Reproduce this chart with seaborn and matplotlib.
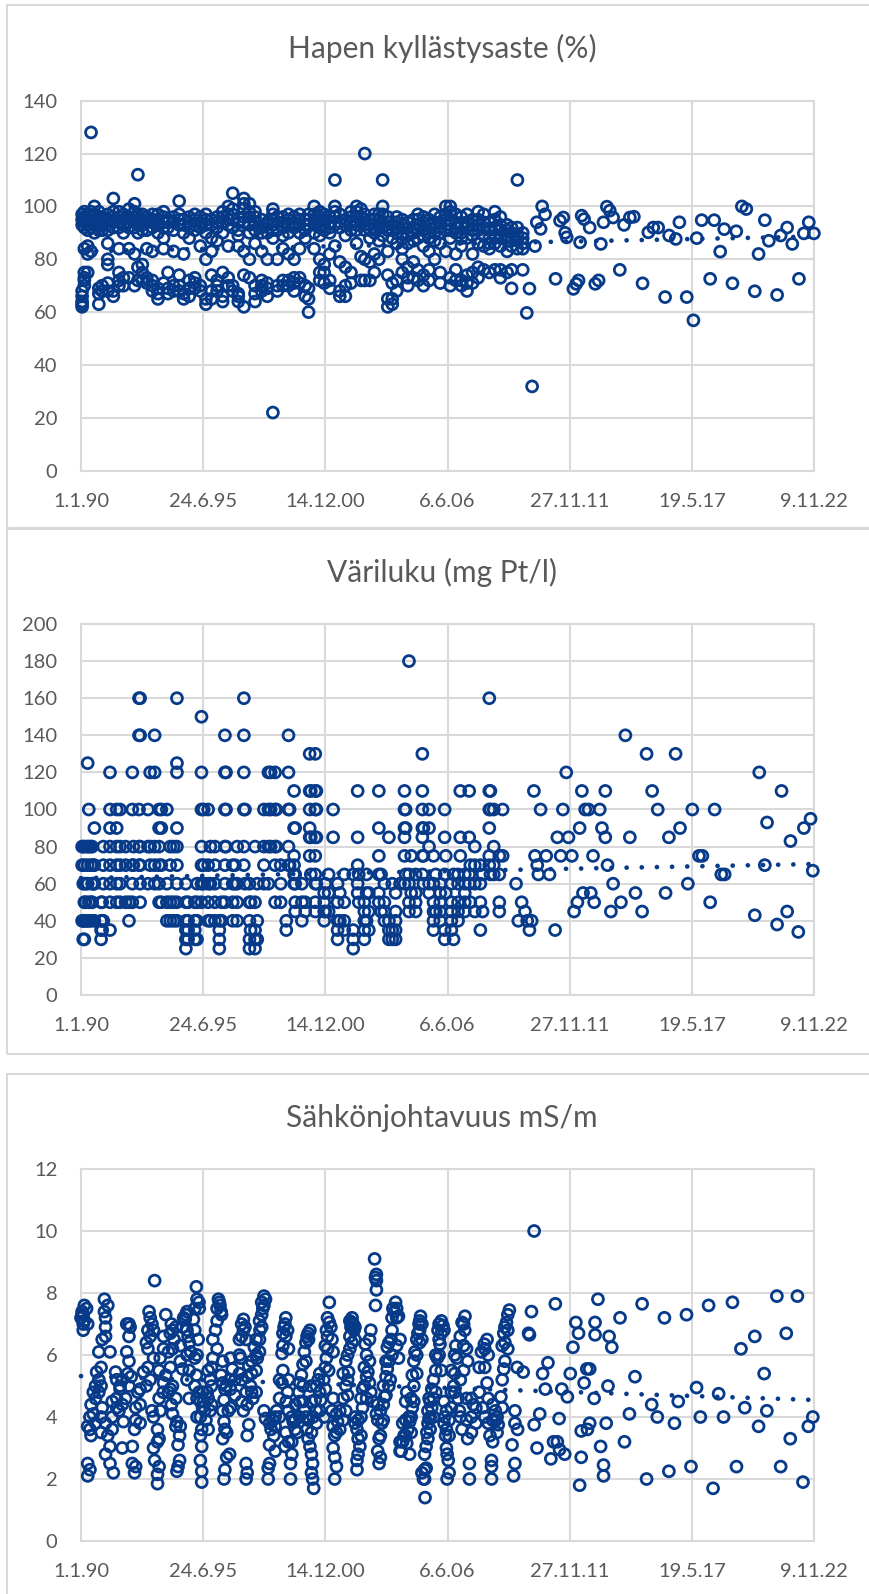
import numpy as np
import pandas as pd
import matplotlib
matplotlib.use("Agg")
import matplotlib.pyplot as plt
import seaborn as sns
from matplotlib.patches import Rectangle

# ---------------- data ----------------
x_tick_labels = ["1.1.90", "24.6.95", "14.12.00", "6.6.06", "27.11.11", "19.5.17", "9.11.22"]
titles = ["Hapen kyllästysaste (%)", "Väriluku (mg Pt/l)", "Sähkönjohtavuus mS/m"]

# Panel 1: oxygen saturation (%) -- sampling dates (decimal year) and values per date
o2_dates = [1990.05, 1990.15, 1990.3, 1990.45, 1990.6, 1990.8, 1990.95,
            1991.2, 1991.45, 1991.7, 1991.9,
            1992.15, 1992.4, 1992.55, 1992.75, 1992.95,
            1993.2, 1993.45, 1993.7, 1993.9,
            1994.15, 1994.4, 1994.6, 1994.85,
            1995.1, 1995.35, 1995.6, 1995.85,
            1996.1, 1996.35, 1996.6, 1996.8,
            1997.05, 1997.3, 1997.55, 1997.8,
            1998.1, 1998.35, 1998.6, 1998.8,
            1999.05, 1999.3, 1999.55, 1999.8,
            2000.05, 2000.2, 2000.45, 2000.7, 2000.9,
            2001.15, 2001.38, 2001.6, 2001.85,
            2002.1, 2002.35, 2002.55, 2002.72, 2002.95,
            2003.15, 2003.35, 2003.52, 2003.75, 2003.95,
            2004.15, 2004.4, 2004.65, 2004.9,
            2005.1, 2005.35, 2005.6, 2005.85,
            2006.1, 2006.35, 2006.55, 2006.8,
            2007.05, 2007.3, 2007.55, 2007.8,
            2008.05, 2008.3, 2008.55, 2008.8,
            2009.1, 2009.3, 2009.56, 2009.8,
            2009.98, 2010.1, 2010.22, 2010.35, 2010.43, 2010.6, 2010.67, 2010.8,
            2011.27, 2011.47, 2011.62, 2011.7, 2011.77,
            2012.07, 2012.2, 2012.3, 2012.37, 2012.44, 2012.55, 2012.8,
            2013.05, 2013.2, 2013.3, 2013.42, 2013.57, 2013.7, 2013.85,
            2014.15, 2014.34, 2014.6, 2014.78,
            2015.17, 2015.43, 2015.65, 2015.87,
            2016.18, 2016.36, 2016.66, 2016.82,
            2017.15, 2017.45, 2017.6, 2017.82,
            2018.2, 2018.38, 2018.65, 2018.83,
            2019.2, 2019.37, 2019.62, 2019.82,
            2020.2, 2020.37, 2020.65, 2020.83,
            2021.2, 2021.36, 2021.65, 2021.88,
            2022.18, 2022.4, 2022.62, 2022.85]
o2_values = [[62, 63, 64, 66, 68, 93, 95, 97], [70, 72, 73, 75, 84, 92, 94, 96, 98], [75, 82, 85, 91, 93, 95, 97],
             [128, 83, 92, 94, 96, 98], [90, 93, 95, 97, 100], [63, 67, 69, 91, 94, 96, 98], [68, 70, 91, 93, 95, 96],
             [68, 71, 78, 80, 86, 91, 93, 95, 97], [66, 68, 92, 94, 96, 98, 103], [70, 72, 75, 84, 92, 94, 96, 98],
             [70, 73, 90, 93, 95, 97],
             [73, 84, 92, 94, 96, 99], [70, 82, 92, 94, 96, 98, 101], [72, 77, 90, 93, 95, 97, 112],
             [72, 75, 78, 91, 93, 95, 97], [71, 73, 84, 91, 94, 96],
             [68, 70, 72, 83, 92, 94, 95, 97], [65, 67, 69, 90, 93, 95, 97], [71, 84, 88, 92, 94, 96, 98],
             [67, 69, 75, 92, 94, 95],
             [68, 70, 83, 91, 94, 96], [68, 70, 74, 93, 95, 97, 102], [65, 67, 82, 90, 93, 95],
             [66, 69, 72, 88, 92, 94, 96],
             [69, 71, 73, 91, 93, 95, 97], [68, 70, 85, 92, 94, 96], [63, 65, 80, 90, 93, 95, 97],
             [65, 68, 74, 83, 88, 93, 95],
             [68, 70, 72, 87, 92, 94, 96], [64, 66, 75, 90, 94, 96, 98], [70, 73, 85, 93, 95, 97, 100],
             [68, 70, 92, 95, 97, 99, 105],
             [64, 66, 67, 85, 89, 91, 94], [62, 74, 83, 94, 96, 99, 101, 103], [73, 80, 90, 93, 96, 98, 101],
             [64, 67, 70, 86, 91, 94, 96, 98],
             [68, 70, 72, 83, 90, 92, 95], [66, 69, 71, 80, 90, 93, 94], [22, 88, 91, 93, 95, 97, 99],
             [68, 70, 80, 91, 94, 96],
             [70, 72, 84, 89, 92, 94, 96], [70, 72, 82, 90, 93, 95, 97], [68, 71, 73, 80, 92, 94, 96],
             [71, 73, 84, 90, 93, 95, 97],
             [66, 70, 88, 91, 93, 95], [60, 65, 69, 93, 95, 97], [84, 90, 93, 95, 97, 100],
             [72, 75, 80, 89, 92, 94, 96, 98], [71, 75, 78, 91, 93, 95, 97],
             [69, 72, 82, 90, 92, 94, 96], [85, 93, 96, 98, 100, 110], [66, 68, 79, 92, 94, 97],
             [66, 70, 77, 89, 93, 95],
             [71, 75, 91, 94, 96, 98], [86, 91, 93, 96, 98, 100], [72, 81, 94, 96, 99],
             [72, 80, 91, 93, 95, 97, 120], [72, 79, 88, 91, 93, 95],
             [75, 82, 90, 92, 95, 97], [80, 87, 93, 95, 97], [89, 92, 94, 97, 100, 110],
             [62, 65, 74, 83, 91, 94, 96], [63, 65, 71, 88, 91, 93],
             [68, 72, 86, 90, 92, 94, 96], [75, 80, 84, 88, 90, 93, 95], [70, 73, 77, 86, 89, 92, 94],
             [73, 79, 87, 90, 92, 95],
             [72, 76, 88, 91, 93, 95, 97], [70, 74, 85, 89, 91, 94, 96], [72, 76, 83, 88, 90, 93, 95],
             [80, 87, 90, 92, 94, 97],
             [71, 75, 86, 90, 92, 94, 96], [83, 91, 93, 95, 97, 100], [70, 73, 88, 91, 93, 95, 98, 100],
             [72, 76, 82, 90, 92, 94, 97],
             [70, 72, 85, 88, 90, 93, 96], [68, 71, 74, 88, 92, 94, 97], [71, 75, 82, 89, 91, 93, 95],
             [73, 77, 86, 91, 93, 95, 98],
             [76, 85, 89, 92, 94, 97], [75, 84, 86, 88, 91, 94], [76, 86, 89, 92, 95, 98],
             [73, 76, 85, 88, 91, 93, 96],
             [75, 83, 87, 89, 91, 93], [69, 76, 85, 88, 90, 92], [84, 87, 89, 92, 110], [76, 84, 86, 88, 90],
             [59.7], [68.9], [31.9], [85], [94], [91.5], [100], [97],
             [72.6], [94.6], [95.8], [90], [88.3],
             [68.8], [70.7], [72], [86.4], [96.5], [95.2], [92],
             [70.7], [72], [85.8], [94], [99.9], [98.4], [95.8],
             [76], [93], [95.8], [96.1],
             [70.9], [90.2], [92], [92],
             [65.7], [89], [87.7], [94],
             [65.7], [56.9], [88], [94.8],
             [72.6], [94.8], [82.9], [91.4],
             [70.9], [90.6], [100], [99],
             [67.9], [82], [94.8], [87],
             [66.5], [89], [92], [85.8],
             [72.6], [89.8], [94], [89.8]]

# Panel 2: colour number (mg Pt/l)
col_dates = [1990.05, 1990.1, 1990.15, 1990.2, 1990.3, 1990.35, 1990.45, 1990.5, 1990.55, 1990.6, 1990.9, 1990.95,
             1991.0, 1991.3, 1991.6, 1991.75,
             1992.0, 1992.15, 1992.3, 1992.35, 1992.6, 1992.65,
             1993.0, 1993.1, 1993.3, 1993.5, 1993.6, 1993.85,
             1994.0, 1994.15, 1994.3, 1994.7, 1994.8,
             1995.1, 1995.2, 1995.4, 1995.5, 1995.7, 1995.8,
             1996.0, 1996.2, 1996.3, 1996.45, 1996.5, 1996.8, 1996.9,
             1997.0, 1997.3, 1997.35, 1997.55, 1997.6, 1997.8, 1997.9,
             1998.2, 1998.4, 1998.5, 1998.7, 1998.75, 1998.95,
             1999.2, 1999.3, 1999.35, 1999.55, 1999.6, 1999.9,
             2000.05, 2000.25, 2000.3, 2000.5, 2000.55, 2000.9, 2000.95,
             2001.1, 2001.3, 2001.5, 2001.6, 2001.8,
             2002.2, 2002.4, 2002.45, 2002.7, 2002.8, 2002.9,
             2003.35, 2003.45, 2003.6, 2003.8, 2003.95,
             2004.1, 2004.3, 2004.5, 2004.55, 2004.7, 2004.8,
             2005.0, 2005.3, 2005.35, 2005.6, 2005.8, 2005.9,
             2006.1, 2006.3, 2006.35, 2006.6, 2006.7, 2006.9,
             2007.0, 2007.2, 2007.4, 2007.45, 2007.65, 2007.9, 2008.0,
             2008.3, 2008.35, 2008.5, 2008.75, 2008.9,
             2009.5, 2009.6, 2009.75, 2009.9, 2010.0,
             2010.1, 2010.2, 2010.3, 2010.35, 2010.45, 2010.5, 2010.6,
             2010.85, 2011.0, 2011.25, 2011.35, 2011.5, 2011.6, 2011.75,
             2011.85, 2012.0, 2012.1, 2012.25, 2012.35, 2012.45, 2012.5,
             2012.6, 2012.75, 2012.85, 2012.95, 2013.0, 2013.25, 2013.35,
             2013.5, 2013.6, 2013.75, 2013.85, 2014.2,
             2014.4, 2014.6, 2014.85, 2015.15, 2015.35,
             2015.6, 2015.85, 2016.2, 2016.35, 2016.65, 2016.85,
             2017.2, 2017.4, 2017.7, 2017.85, 2018.2, 2018.4, 2018.7, 2018.85,
             2020.2, 2020.4, 2020.65, 2020.75, 2021.2, 2021.4, 2021.65, 2021.8,
             2022.15, 2022.4, 2022.7, 2022.8]
col_values = [[40, 70, 80], [40, 80, 30, 60], [40, 30, 70, 50], [40, 80, 50, 60], [125, 60, 40, 80, 70],
              [100, 80, 50, 40], [80, 50, 40, 70], [60, 80, 50], [70, 60], [90, 70, 60, 40], [30, 35, 40, 50], [40, 50, 35],
              [80, 70, 60, 40], [120, 100, 90, 80, 70, 60, 50, 35], [100, 90, 80, 70, 60, 50], [100, 80, 70, 60, 50],
              [80, 70, 50], [40, 50], [120, 100, 60, 50, 70], [80, 70], [160, 140, 100, 80, 70], [160, 140, 80, 70, 60, 50],
              [100, 80, 60], [120, 70, 80], [140, 120, 80, 70, 60], [100, 90, 80, 70, 60, 50], [100, 90, 70, 50], [100, 50, 40, 60],
              [80, 70, 50, 40], [50, 40, 80], [160, 125, 120, 90, 80, 70, 60, 50, 40], [25, 35, 30, 40, 50, 60], [30, 35, 40, 50],
              [40, 35, 50, 30], [60, 50, 40, 30], [150, 120, 100, 80, 70, 60, 50], [100, 70, 60], [100, 70, 60, 50, 40], [80, 60, 40],
              [80, 70, 60, 50, 40], [40, 25, 30, 35], [40, 50], [140, 120, 100, 80, 70, 60, 50], [120, 100, 80], [70, 60, 50, 40], [70, 60],
              [80, 60, 50, 40], [160, 140, 120, 100, 80, 70], [100, 60], [60, 50, 40, 25, 30], [50, 35], [80, 50, 35, 25, 30], [40, 30, 60],
              [100, 80, 70, 60], [60, 120, 100, 80], [120, 100, 80], [120, 100, 80, 70, 50], [100, 80], [70, 60, 50],
              [40, 35], [120, 140, 100, 80, 70], [100, 70], [90, 110, 70, 65, 60, 75], [90, 65, 60, 45, 50], [60, 50, 40],
              [50, 45], [130, 110, 100, 85, 90, 75], [110, 85, 65], [130, 110, 100, 85, 75, 65, 60, 50, 45], [110, 100, 85, 60],
              [55, 50, 45, 40], [60, 45],
              [65, 55, 45], [100, 85], [60, 50, 40, 35, 30], [55, 40], [65, 50, 40, 35],
              [25, 65, 30, 35], [70, 110, 85, 60, 55], [65, 50], [50, 45, 40, 35, 30], [65, 55, 40], [55, 45, 35],
              [110, 90, 75, 65, 55, 50], [65, 45], [60, 50, 45, 40], [85, 40, 35, 30], [35, 30, 60],
              [55, 45, 40, 35, 30], [60], [100, 110, 90, 75, 85, 60], [100, 90, 65], [180, 65, 60, 50, 45], [75, 55],
              [65, 55, 50, 45], [130, 110, 100, 90, 85, 75, 65], [90, 75, 60], [100, 90, 80, 60, 55],
              [75, 60, 50, 45, 40, 35], [65, 45],
              [60, 55, 50, 45, 40], [100, 85, 65, 30, 35], [75, 55], [60, 50, 45, 40, 35], [65, 30], [65, 60, 50, 45, 40],
              [110, 85, 75], [65, 60, 55, 50, 45], [110, 65, 60, 85], [70, 50], [80, 70, 60, 45], [70, 50, 60, 35], [65, 45],
              [160, 100, 110, 90, 75, 70], [110, 100, 65], [100, 80, 70, 65], [65, 75, 50, 45], [100, 75],
              [60], [40], [50], [45], [40],
              [35], [40], [110], [75], [70], [65], [100],
              [75], [65], [35], [85], [75], [100], [120],
              [85], [75], [45], [50], [90], [110], [55],
              [100], [100], [55], [75], [50], [100], [90],
              [110, 85], [70], [45], [60], [50],
              [140], [85], [55], [45], [130],
              [110], [100], [55], [85], [130], [90],
              [60], [100], [75], [75], [50], [100], [65], [65],
              [43], [120], [70], [93], [38], [110], [45], [83],
              [34], [90], [95], [67]]

# Panel 3: electrical conductivity (mS/m), main sampling dates
ec_dates = [1990.0, 1990.05, 1990.15, 1990.25, 1990.3, 1990.45, 1990.55, 1990.7, 1990.8, 1990.95,
            1991.05, 1991.2, 1991.3, 1991.45, 1991.55, 1991.7, 1991.75, 1991.9,
            1992.0, 1992.05, 1992.1, 1992.2, 1992.25, 1992.3, 1992.4, 1992.55, 1992.8, 1992.93,
            1993.05, 1993.18, 1993.3, 1993.43, 1993.55, 1993.68, 1993.8, 1993.92,
            1994.05, 1994.17, 1994.3, 1994.42, 1994.55, 1994.6, 1994.67, 1994.7, 1994.8, 1994.92,
            1995.04, 1995.17, 1995.25, 1995.29, 1995.3, 1995.41, 1995.5, 1995.54, 1995.6, 1995.66, 1995.79, 1995.91,
            1996.03, 1996.16, 1996.2, 1996.23, 1996.28, 1996.3, 1996.41, 1996.5, 1996.53, 1996.6, 1996.66, 1996.78,
            1997.15, 1997.28, 1997.35, 1997.4, 1997.52, 1997.6, 1997.7, 1997.77, 1997.9,
            1998.02, 1998.15, 1998.27, 1998.39, 1998.52, 1998.6, 1998.64, 1998.77,
            1999.01, 1999.1, 1999.14, 1999.2, 1999.26, 1999.39, 1999.51, 1999.7, 1999.76, 1999.88,
            2000.01, 2000.13, 2000.2, 2000.26, 2000.3, 2000.38, 2000.4, 2000.43, 2000.5, 2000.63, 2000.75, 2000.88, 2000.9,
            2001.0, 2001.1, 2001.13, 2001.2, 2001.25, 2001.37, 2001.5, 2001.87, 2001.99,
            2002.1, 2002.12, 2002.2, 2002.24, 2002.3, 2002.37, 2002.5, 2002.62, 2002.74, 2002.86, 2002.99,
            2003.1, 2003.16, 2003.2, 2003.24, 2003.36, 2003.48, 2003.61, 2003.73, 2003.86, 2003.9, 2003.98,
            2004.05, 2004.1, 2004.23, 2004.35, 2004.48, 2004.6, 2004.65, 2004.7, 2004.73, 2004.85, 2004.97,
            2005.1, 2005.15, 2005.22, 2005.35, 2005.42, 2005.47, 2005.5, 2005.6, 2005.72, 2005.97,
            2006.0, 2006.09, 2006.22, 2006.3, 2006.34, 2006.41, 2006.46, 2006.71, 2006.8, 2006.84, 2006.9, 2006.96,
            2007.08, 2007.2, 2007.21, 2007.33, 2007.41, 2007.58, 2007.95,
            2008.0, 2008.08, 2008.2, 2008.33, 2008.4, 2008.57, 2008.6, 2008.7, 2008.82, 2008.95,
            2009.07, 2009.2, 2009.32, 2009.39, 2009.55, 2009.57, 2009.82,
            2010.06, 2010.1, 2010.19, 2010.31, 2010.44, 2010.56, 2010.69, 2010.81, 2010.93,
            2011.06, 2011.18, 2011.26, 2011.35, 2011.43, 2011.45, 2011.55, 2011.68, 2011.8, 2011.93,
            2012.05, 2012.18, 2012.3, 2012.35, 2012.42, 2012.55, 2012.67, 2012.7, 2012.8,
            2013.0, 2013.04, 2013.17, 2013.29, 2013.42, 2013.54, 2013.62, 2013.67, 2013.79,
            2014.16, 2014.36, 2014.58, 2014.83, 2015.15, 2015.35, 2015.58, 2015.83, 2016.15,
            2016.35, 2016.6, 2016.77, 2017.14, 2017.34, 2017.59, 2017.76, 2018.13, 2018.33, 2018.58, 2018.8,
            2019.2, 2019.38, 2019.58, 2019.75, 2020.2, 2020.37, 2020.62, 2020.74,
            2021.19, 2021.36, 2021.61, 2021.79, 2022.11, 2022.36, 2022.6, 2022.8]
ec_values = [[7.2], [7.4, 7.3], [7.1, 7.6], [7.5], [7.0, 3.7, 2.5, 2.1], [3.4, 4.4], [4.8, 4.1], [5.45], [5.2, 4.8, 6.1], [4.3, 6.5],
             [7.8, 7.4], [7.6, 3.4], [6.1, 2.5, 3.05], [2.2], [5.45], [4.2], [4.9, 5.0], [3.85],
             [4.6], [7.0, 6.1], [5.4], [6.9], [5.3], [2.5, 3.05], [2.2, 3.6], [4.8], [5.45], [6.4, 5.0],
             [7.4], [7.0, 4.2], [8.4, 2.6], [3.6, 3.2, 2.15, 1.85], [5.9, 4.2], [4.8], [7.3, 5.35], [6.1, 4.8],
             [7.0, 4.4], [6.5], [3.85, 2.25], [3.4, 2.6], [5.55, 6.9], [7.2], [7.15], [7.3], [6.6], [6.1],
             [7.15], [8.2, 5.35], [6.5], [7.7, 4.8], [7.5], [3.6, 3.05, 2.25, 1.9], [4.5], [4.2], [3.9], [4.8], [5.2, 4.2], [5.9, 6.5],
             [6.8], [7.8], [7.7], [7.6], [7.4, 5.35], [7.3], [4.55, 3.85, 2.0], [5.0], [3.5, 2.7], [4.2], [2.8, 5.2], [5.55],
             [5.9], [7.15, 6.8, 4.2], [6.9], [6.5, 4.8, 2.5, 2.0], [5.65, 3.75], [5.0], [4.6], [6.25], [5.9],
             [6.8], [7.5], [7.8, 3.95], [2.35, 2.0], [3.6], [3.9], [3.4], [4.2],
             [6.05, 5.1], [6.9], [7.0, 3.05], [4.5], [6.8, 4.8], [2.5, 2.0], [3.85], [3.5], [4.8], [5.35],
             [6.1, 4.2], [6.6, 3.6], [6.5], [6.8, 3.05], [5.0], [2.5, 2.0], [4.0], [1.7], [4.55], [5.2], [4.55], [5.2], [4.0],
             [6.8, 5.9], [5.5], [7.7, 7.05], [6.9], [6.5, 4.2], [3.4, 2.7, 2.0], [3.85], [5.8, 5.0, 4.2], [5.45],
             [6.9], [7.05], [7.0], [6.8], [4.0], [3.6, 2.6, 2.3], [3.05], [4.9, 4.3], [6.35], [5.45], [6.8, 4.8],
             [4.5], [9.1], [7.6, 8.5], [8.6, 8.4, 8.1, 4.1], [3.3, 2.5], [3.8], [4.65], [6.25, 5.55], [5.2], [6.5], [7.5],
             [7.4], [7.7], [7.25, 5.9], [2.9], [3.4], [4.8, 3.15], [3.6], [4.0], [3.85, 2.8], [4.3, 5.35], [6.1],
             [6.7], [7.0], [7.25], [2.0], [1.4], [2.35, 3.05], [3.5], [3.95, 4.6], [4.3, 4.9], [5.9],
             [6.8], [6.35], [6.95], [4.0], [3.4], [2.8, 2.0], [2.6], [5.0], [6.3], [5.9], [4.6], [4.2],
             [7.05, 3.6], [6.8], [7.25], [3.3, 5.8], [2.5, 2.0], [4.4], [6.1],
             [4.3], [6.35], [6.5, 5.1], [3.4], [2.6, 2.0, 2.4], [4.2], [3.9], [3.75], [4.65], [6.7, 5.55],
             [7.05], [7.45], [3.1], [2.1], [5.6], [3.6], [5.45],
             [6.7], [6.65], [7.4], [10.0, 3.75], [3.0], [4.1], [5.4], [4.9], [5.75],
             [2.65], [3.2], [7.65], [3.2], [3.95], [2.95], [4.9], [2.8], [4.65], [5.4],
             [6.25], [7.05], [6.7], [1.8], [2.7, 3.55], [5.1], [5.55], [3.6], [5.55, 3.8],
             [4.6], [7.05, 6.65], [7.8], [3.05], [2.45, 2.1], [3.8], [5.0], [6.6], [6.25],
             [7.2], [3.2], [4.1], [5.3], [7.65], [2.0], [4.4], [4.0], [7.2],
             [2.25], [3.8], [4.5], [7.3], [2.4], [4.95], [4.0], [7.6], [1.7], [4.75], [4.0],
             [7.7], [2.4], [6.2], [4.3], [6.6], [3.7], [5.4], [4.2],
             [7.9], [2.4], [6.7], [3.3], [7.9], [1.9], [3.7], [4.0]]

# Panel 3: further depth profiles in the dense 1990-2009 period
ec_dates2 = [1990.1, 1990.4, 1990.65, 1990.9, 1991.1, 1991.4, 1991.6, 1991.85,
             1992.15, 1992.45, 1992.65, 1993.0, 1993.1, 1993.25, 1993.5, 1993.7,
             1994.0, 1994.1, 1994.25, 1994.35, 1994.45, 1994.75, 1994.85,
             1995.1, 1995.2, 1995.35, 1995.45, 1995.7, 1995.85,
             1996.1, 1996.35, 1996.45, 1996.7, 1996.9,
             1997.1, 1997.2, 1997.45, 1997.65, 1997.85,
             1998.0, 1998.1, 1998.2, 1998.45, 1998.7, 1998.9,
             1999.05, 1999.18, 1999.3, 1999.45, 1999.6, 1999.8, 1999.95,
             2000.08, 2000.18, 2000.33, 2000.55, 2000.7, 2000.95,
             2001.05, 2001.3, 2001.45, 2001.6, 2001.75, 2001.95,
             2002.05, 2002.15, 2002.28, 2002.42, 2002.55, 2002.7, 2002.8, 2002.93,
             2003.3, 2003.42, 2003.55, 2003.67, 2003.8, 2003.94,
             2004.15, 2004.3, 2004.42, 2004.55, 2004.8, 2004.92,
             2005.05, 2005.18, 2005.28, 2005.4, 2005.55, 2005.65, 2005.8, 2005.9,
             2006.05, 2006.15, 2006.27, 2006.38, 2006.5, 2006.6, 2006.75,
             2007.0, 2007.15, 2007.28, 2007.5, 2007.7, 2007.85,
             2008.1, 2008.25, 2008.45, 2008.65, 2008.88,
             2009.0, 2009.13, 2009.45]
ec_values2 = [[7.3, 7.0, 6.8], [4.0, 3.6, 2.3], [5.0, 4.6, 3.8], [5.6, 5.0, 4.0, 3.5], [7.2, 6.9, 6.6, 3.8, 2.8],
              [4.5, 4.0, 3.6], [5.2, 4.6, 4.3], [5.2, 4.4, 3.0],
              [7.0, 6.6, 5.8, 5.0], [4.3, 3.9, 2.4], [4.9, 4.4, 3.8], [6.8, 6.2, 5.6], [7.2, 6.6, 5.2],
              [6.8, 5.9, 4.0, 3.0], [5.5, 4.6, 3.3, 2.4], [6.6, 6.2, 5.1],
              [6.7, 5.6, 4.9], [6.8, 6.2, 5.0, 4.1], [6.9, 4.6, 3.7], [3.1, 2.4], [6.3, 5.8, 3.7],
              [7.4, 6.8, 6.0, 5.2], [6.4, 5.5, 4.6],
              [7.5, 6.8, 5.9, 5.0], [7.8, 6.0, 4.6, 4.0], [4.5, 4.0, 3.4, 2.6], [4.8, 4.3], [5.5, 4.6, 3.6], [5.6, 5.0, 4.4],
              [7.5, 7.1, 6.2], [5.8, 5.1, 4.2, 3.3], [4.9, 3.6, 2.3], [5.9, 4.9, 4.3], [5.2, 4.7],
              [6.5, 6.0, 5.4], [7.0, 6.6, 5.2, 4.5], [5.3, 4.4, 3.4, 2.2], [5.8, 5.4, 4.8], [6.5, 6.0, 5.5, 4.8],
              [7.1, 6.5, 6.1], [7.7, 7.3, 6.9], [7.9, 7.6, 4.2], [3.8, 3.1, 2.5], [4.0, 3.7, 2.9], [5.2, 4.6, 4.0],
              [6.7, 6.3, 5.5], [7.2, 6.6, 3.5], [6.2, 5.2, 4.2, 3.2], [4.0, 3.2, 2.8], [4.4, 3.9, 3.6],
              [5.1, 4.5, 4.0], [5.7, 5.0, 4.5],
              [6.4, 5.8, 4.0], [6.7, 3.9, 3.3], [4.5, 3.5, 2.8, 2.2], [5.0, 4.2, 3.8], [5.4, 4.8, 4.2], [6.3, 5.6, 4.9],
              [7.2, 6.6, 6.2], [6.1, 4.6, 3.7, 3.0], [4.1, 3.5, 2.4], [4.2, 3.6], [5.4, 4.6, 3.9], [6.0, 5.2, 4.7],
              [7.1, 6.6, 6.2], [7.2, 6.9, 6.4], [6.9, 6.5, 3.8], [3.9, 3.3, 2.8], [4.6, 4.0, 3.4], [5.6, 5.0],
              [6.0, 5.3, 4.6], [6.5, 5.8, 5.1],
              [4.4, 3.9, 2.9], [4.2, 3.4, 2.7], [5.0, 4.4, 3.9], [5.8, 5.3, 4.7], [6.4, 5.8, 5.0], [7.2, 6.8, 6.0],
              [7.5, 7.2, 6.3], [6.5, 3.2, 2.9], [3.8, 3.2], [4.5, 3.9, 3.4], [4.6, 4.0, 3.5], [5.8, 5.0, 4.5],
              [6.5, 6.0, 5.4], [7.1, 6.8, 6.4], [7.0, 6.5, 2.2], [2.8, 2.3, 2.0], [4.2, 3.8, 3.3], [4.5, 4.0, 3.6],
              [5.2, 4.6, 4.0], [6.0, 5.5, 4.8],
              [7.0, 6.5, 6.0], [7.1, 6.7, 5.5], [6.8, 4.5, 3.8], [4.2, 3.6, 3.0], [3.9, 3.4, 2.2], [5.5, 4.8, 4.3],
              [6.0, 5.4, 4.8],
              [6.6, 5.2, 4.0], [7.0, 6.3, 5.5], [6.2, 4.6, 3.9], [4.6, 4.0, 3.5], [4.3, 3.8], [5.6, 4.8],
              [6.2, 5.6, 4.0], [6.0, 4.6, 3.8], [4.4, 3.9, 3.2], [4.0, 3.5], [6.3, 5.2, 4.3],
              [6.9, 6.4, 5.8], [7.3, 6.8, 6.2], [4.2, 3.8, 2.5]]

# linear trend lines (end points)
trend_years = [1990.0, 2022.85]
o2_trend = [83.0, 88.6]
col_trend = [63.0, 70.6]
ec_trend = [5.32, 4.55]

y_limits = [(0, 140, 20), (0, 200, 20), (0, 12, 2)]

# ---------------- style ----------------
sns.set_theme(style="white")
plt.rcParams["font.family"] = ["Lato", "DejaVu Sans"]

MARK = "#073B8A"
GRID = "#D9D9D9"
TXT = "#595959"

W, H = 869, 1594
fig = plt.figure(figsize=(W / 100, H / 100), dpi=100)

x0 = 1990.0
x1 = 1990.0 + 12000 / 365.25
x_ticks = [x0 + k * 2000 / 365.25 for k in range(7)]

# panel frames (chart areas)
for (top, bot) in [(5, 528), (529, 1054), (1074, 1610)]:
    fig.add_artist(Rectangle((7 / W, 1 - bot / H), (875 - 7) / W, (bot - top) / H,
                             transform=fig.transFigure, fill=False, ec=GRID, lw=1.5, clip_on=False))


def expand(dates, vals):
    assert len(dates) == len(vals)
    xs, ys = [], []
    for d, vs in zip(dates, vals):
        for v in vs:
            xs.append(d)
            ys.append(v)
    return xs, ys


axes_px = [(100.7, 470.7), (624, 995), (1169, 1541)]
title_y = [48, 572, 1118]
datasets = [([(o2_dates, o2_values)], o2_trend),
            ([(col_dates, col_values)], col_trend),
            ([(ec_dates, ec_values), (ec_dates2, ec_values2)], ec_trend)]

for i, ((top, bot), (parts, trend)) in enumerate(zip(axes_px, datasets)):
    ax = fig.add_axes([81 / W, 1 - bot / H, 733 / W, (bot - top) / H])
    xs, ys = [], []
    for dates, vals in parts:
        a, b = expand(dates, vals)
        xs += a
        ys += b
    df = pd.DataFrame({"year": xs, "value": ys})
    sns.scatterplot(data=df, x="year", y="value", ax=ax, s=62, marker="o",
                    facecolor="none", edgecolor=MARK, linewidth=2.0, clip_on=False, zorder=3)
    ax.plot(trend_years, trend, color=MARK, lw=3.4, linestyle=(0, (0.01, 3.2)),
            dash_capstyle="round", zorder=4, clip_on=False)

    lo, hi, step = y_limits[i]
    ax.set_ylim(lo, hi)
    ax.set_yticks(np.arange(lo, hi + step / 2, step))
    ax.set_xlim(x0, x1)
    ax.set_xticks(x_ticks)
    ax.set_xticklabels(x_tick_labels)
    ax.set_xlabel("")
    ax.set_ylabel("")
    ax.grid(True, color=GRID, lw=1.5)
    ax.set_axisbelow(True)
    for sp in ax.spines.values():
        sp.set_visible(True)
        sp.set_color(GRID)
        sp.set_linewidth(1.5)
    ax.tick_params(axis="both", length=0, labelsize=14.5, labelcolor=TXT)
    ax.tick_params(axis="y", pad=17)
    ax.tick_params(axis="x", pad=16)
    ax.set_facecolor("white")
    fig.text(442 / W, 1 - title_y[i] / H, titles[i], ha="center", va="center",
             fontsize=21.5, color=TXT)

fig.savefig("out.png", dpi=100, facecolor="white")
